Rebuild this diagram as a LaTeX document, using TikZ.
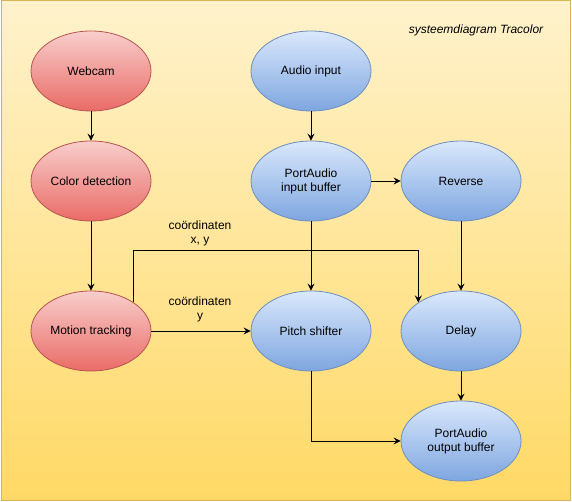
\documentclass[tikz,border=0pt]{standalone}
\usepackage{fontspec}
\setmainfont{Liberation Sans}
\usetikzlibrary{shapes.geometric,arrows.meta}
\definecolor{bgtop}{HTML}{FFF2CC}
\definecolor{bgbot}{HTML}{FFD966}
\definecolor{bgline}{HTML}{D6B656}
\definecolor{redtop}{HTML}{F8CECC}
\definecolor{redbot}{HTML}{EA6B66}
\definecolor{redline}{HTML}{B85450}
\definecolor{bluetop}{HTML}{DAE8FC}
\definecolor{bluebot}{HTML}{7EA6E0}
\definecolor{blueline}{HTML}{6C8EBF}
\tikzset{
  blob/.style={ellipse, minimum width=120pt, minimum height=80pt, inner sep=0pt,
    align=center, font=\fontsize{12}{14}\selectfont, line width=0.8pt},
  redblob/.style={blob, draw=redline, top color=redtop, bottom color=redbot},
  blueblob/.style={blob, draw=blueline, top color=bluetop, bottom color=bluebot},
  arr/.style={draw=black, line width=0.9pt, -{Stealth[length=7pt,width=7pt,inset=2.5pt]}},
  lbl/.style={align=center, font=\fontsize{12}{14}\selectfont, inner sep=0pt},
}
\begin{document}
\begin{tikzpicture}[x=1pt,y=-1pt]
\useasboundingbox (0,0) rectangle (572,502);
\draw[bgline, line width=1pt, top color=bgtop, bottom color=bgbot] (1,1) rectangle (570.5,500.5);

\node[lbl, font=\fontsize{12}{14}\selectfont\itshape] (title) at (476,30) {systeemdiagram Tracolor};

\node[redblob] (web) at (91,71) {Webcam};
\node[redblob] (col) at (91,181) {Color detection};
\node[redblob] (mot) at (91,331) {Motion tracking};

\node[blueblob] (aud) at (311,71) {Audio input};
\node[blueblob] (pin) at (311,181) {PortAudio\\input buffer};
\node[blueblob] (rev) at (461,181) {Reverse};
\node[blueblob] (pit) at (311,331) {Pitch shifter};
\node[blueblob] (del) at (461,331) {Delay};
\node[blueblob] (pout) at (461,441) {PortAudio\\output buffer};

\draw[arr] (web) -- (col);
\draw[arr] (col) -- (mot);
\draw[arr] (aud) -- (pin);
\draw[arr] (pin) -- (rev);
\draw[arr] (pin) -- (pit);
\draw[arr] (rev) -- (del);
\draw[arr] (del) -- (pout);
\draw[arr] (mot) -- (pit);
\coordinate (bend) at (0,250);
\draw[arr] (mot.north east) |- (bend -| del.north west) -- (del.north west);
\draw[arr] (pit) |- (pout);

\node[lbl] (l1) at (200,233) {coördinaten\\x, y};
\node[lbl] (l2) at (200,309) {coördinaten\\y};
\end{tikzpicture}
\end{document}
